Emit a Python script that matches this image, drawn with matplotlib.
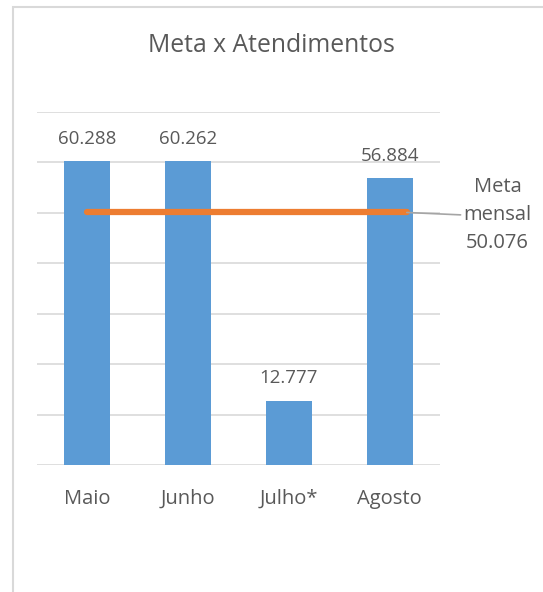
import matplotlib
matplotlib.use("Agg")
import matplotlib.pyplot as plt
from matplotlib.patches import Rectangle
import numpy as np

# dados do grafico
meses = ["Maio", "Junho", "Julho*", "Agosto"]
atendimentos = [60288, 60262, 12777, 56884]
meta_mensal = 50076
rotulos = ["60.288", "60.262", "12.777", "56.884"]
rotulo_meta = "Meta\nmensal\n50.076"

azul = "#5B9BD5"
laranja = "#ED7D31"
cinza_txt = "#595959"
cinza_grade = "#D9D9D9"

plt.rcParams['font.family'] = ['Open Sans', 'DejaVu Sans']

fig = plt.figure(figsize=(5.43, 5.92), dpi=100)
ax = fig.add_axes([37/543, 1-465/592, 403/543, (465-112)/592])

x = np.arange(len(meses))
ax.bar(x, atendimentos, width=0.455, color=azul, zorder=2)

# linha da meta
ax.plot([x[0], x[-1] + 0.17], [meta_mensal, meta_mensal], color=laranja,
        lw=4.5, solid_capstyle='round', zorder=3)

for xi, v, r in zip(x, atendimentos, rotulos):
    ax.text(xi, v + 2600, r, ha='center', va='bottom', fontsize=13.5, color=cinza_txt)

# rotulo da meta com linha guia
ax.annotate(rotulo_meta, xy=(x[-1] + 0.17, meta_mensal), xytext=(4.07, meta_mensal - 500),
            ha='center', va='center', fontsize=14.5, color=cinza_txt,
            linespacing=1.55, annotation_clip=False,
            arrowprops=dict(arrowstyle='-', color='#A5A5A5', lw=1.2, shrinkA=0, shrinkB=0,
                            relpos=(0, 0.5)))

ax.set_xlim(-0.5, 3.5)
ax.set_ylim(0, 70000)
ax.set_yticks(np.arange(0, 70001, 10000))
ax.set_yticklabels([])
ax.tick_params(axis='y', length=0)
ax.set_xticks(x)
ax.set_xticklabels(meses, fontsize=14.5, color=cinza_txt)
ax.tick_params(axis='x', length=0, pad=17)
ax.grid(axis='y', color=cinza_grade, lw=1.2, zorder=0)
ax.set_axisbelow(True)
for s in ax.spines.values():
    s.set_visible(False)

fig.text(271/543, 1-45/592, "Meta x Atendimentos", ha='center', va='center',
         fontsize=17.8, color=cinza_txt)

# borda do grafico
fig.patches.append(Rectangle((12.5/543, -0.1), 1.2, 1.1 - 6.5/592, transform=fig.transFigure,
                             fill=False, edgecolor=cinza_grade, lw=1.5))

fig.savefig("out.png", dpi=100, facecolor='white')
